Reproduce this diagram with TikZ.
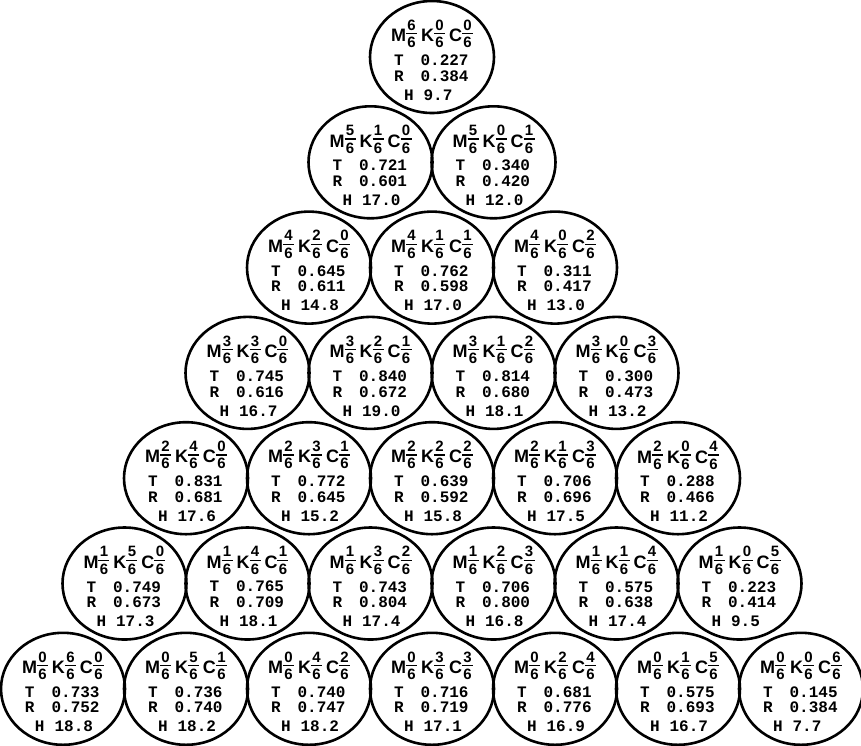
\documentclass[tikz,border=0pt]{standalone}
\usepackage{fontspec}
\setmonofont{Liberation Mono}
\newfontfamily\headfont{Liberation Sans}

% stacked sixths in the cell headers
\newcommand{\frs}[1]{\raisebox{-6pt}{\vbox{\hbox to 11pt{\hss\fontsize{15}{15}\selectfont #1\hss}\kern2.8pt\hrule height 1.3pt\kern2.8pt\hbox to 11pt{\hss\fontsize{15}{15}\selectfont 6\hss}}}}
% one value row of a cell
\newcommand{\valrow}[3]{\makebox[94pt][l]{\hspace{#1}#2\hspace{17pt}#3}}

\begin{document}
\begin{tikzpicture}[x=1pt,y=-1pt,
  cell/.style={inner sep=0pt, align=center, font=\ttfamily\bfseries\fontsize{16}{15.5}\selectfont},
  ring/.style={line width=2.6pt}
]
\useasboundingbox (0,0) rectangle (861,745);
\foreach \i/\j/\t/\r/\h in {0/0/0.227/0.384/9.7,
  1/0/0.721/0.601/17.0, 1/1/0.340/0.420/12.0,
  2/0/0.645/0.611/14.8, 2/1/0.762/0.598/17.0, 2/2/0.311/0.417/13.0,
  3/0/0.745/0.616/16.7, 3/1/0.840/0.672/19.0, 3/2/0.814/0.680/18.1, 3/3/0.300/0.473/13.2,
  4/0/0.831/0.681/17.6, 4/1/0.772/0.645/15.2, 4/2/0.639/0.592/15.8, 4/3/0.706/0.696/17.5, 4/4/0.288/0.466/11.2,
  5/0/0.749/0.673/17.3, 5/1/0.765/0.709/18.1, 5/2/0.743/0.804/17.4, 5/3/0.706/0.800/16.8, 5/4/0.575/0.638/17.4, 5/5/0.223/0.414/9.5,
  6/0/0.733/0.752/18.8, 6/1/0.736/0.740/18.2, 6/2/0.740/0.747/18.2, 6/3/0.716/0.719/17.1, 6/4/0.681/0.776/16.9, 6/5/0.575/0.693/16.7, 6/6/0.145/0.384/7.7}{
  \pgfmathsetmacro\m{int(6-\i)}
  \pgfmathsetmacro\k{int(\i-\j)}
  \node[cell] (c\i\j) at ({432+(\j-\i/2)*123}, {60+\i*105.3})
    {{\headfont\bfseries\fontsize{18}{18}\selectfont M\frs{\m}\hspace{4pt}K\frs{\k}\hspace{4pt}C\frs{\j}}\\[6pt]
     \valrow{9pt}{T}{\t}\\
     \valrow{9pt}{R}{\r}\\[3.5pt]
     \valrow{19pt}{H}{\hspace{-7pt}\h}};
  \draw[ring] ([yshift=3pt]c\i\j.center) ellipse [x radius=62, y radius=56];
}
\end{tikzpicture}
\end{document}
